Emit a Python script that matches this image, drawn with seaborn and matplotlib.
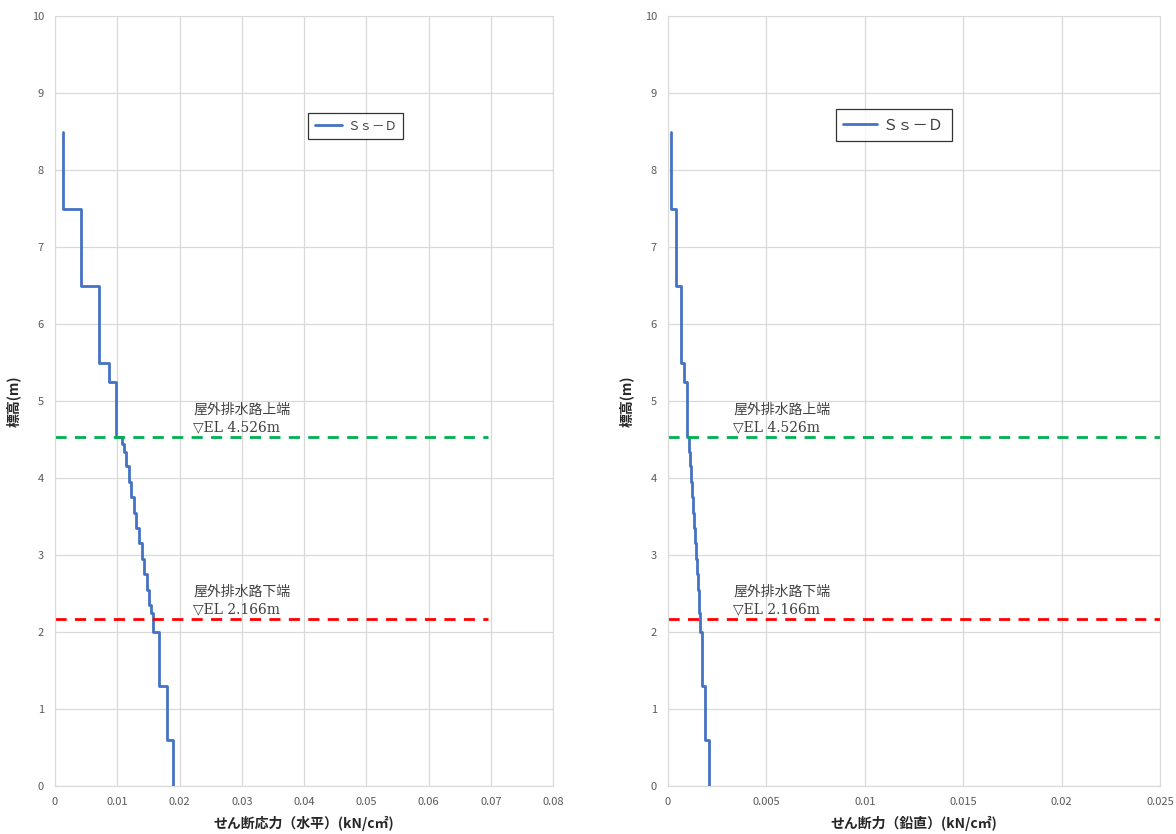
import numpy as np
import pandas as pd
import matplotlib
matplotlib.use("Agg")
import matplotlib.pyplot as plt
import seaborn as sns
from matplotlib.ticker import FuncFormatter, MultipleLocator

# --- data ---
layer_bounds = [8.5, 7.5, 6.5, 5.5, 5.25, 4.526, 4.44, 4.34, 4.15, 3.95, 3.75, 3.55,
                3.35, 3.15, 2.95, 2.75, 2.55, 2.35, 2.25, 2.166, 2.0, 1.3, 0.6, 0.0]
shear_h = [0.0013, 0.0042, 0.0070, 0.0086, 0.00985, 0.01076, 0.01108, 0.0114, 0.01184,
           0.01226, 0.01264, 0.01306, 0.01354, 0.01398, 0.01434, 0.01478, 0.01515,
           0.01547, 0.01569, 0.01579, 0.01666, 0.01794, 0.01896]
shear_v = [0.00014, 0.00041, 0.00066, 0.00081, 0.00095, 0.00105, 0.00109, 0.00113,
           0.00118, 0.00123, 0.00127, 0.00132, 0.00137, 0.00142, 0.00146, 0.00151,
           0.00155, 0.00159, 0.00162, 0.00164, 0.00174, 0.00188, 0.00209]
series_name = "Ｓｓ－Ｄ"
top_el = 4.526
bottom_el = 2.166
top_label = "屋外排水路上端\n▽EL 4.526m"
bottom_label = "屋外排水路下端\n▽EL 2.166m"


def step_frame(vals):
    xs, ys = [], []
    for i, v in enumerate(vals):
        xs += [v, v]
        ys += [layer_bounds[i], layer_bounds[i + 1]]
    return pd.DataFrame({"x": xs, "y": ys})


sns.set_style("whitegrid")
plt.rcParams['font.family'] = ['Noto Sans CJK JP', 'DejaVu Sans']
plt.rcParams['axes.unicode_minus'] = False

fig = plt.figure(figsize=(11.76, 8.34), dpi=100)
ax1 = fig.add_axes([55 / 1176, 48 / 834, 498 / 1176, 770 / 834])
ax2 = fig.add_axes([668 / 1176, 48 / 834, 492 / 1176, 770 / 834])

panels = [
    (ax1, shear_h, 0.08, 0.01, "せん断応力（水平）(kN/c㎡)", 0.0695, 0.0222,
     (0.604, 0.857), 9),
    (ax2, shear_v, 0.025, 0.005, "せん断力（鉛直）(kN/c㎡)", 0.025, 0.0033,
     (0.459, 0.858), 11),
]

note_family = ['DejaVu Serif', 'Noto Sans CJK JP']

for ax, vals, xmax, xstep, xlabel, dash_end, txt_x, leg_pos, leg_fs in panels:
    df = step_frame(vals)
    sns.lineplot(data=df, x="x", y="y", sort=False, estimator=None, ax=ax,
                 color="#4472c4", linewidth=2, label=series_name)
    ax.plot([0, dash_end], [top_el, top_el], color="#00b050", linestyle=(0, (4, 3)),
            linewidth=2)
    ax.plot([0, dash_end], [bottom_el, bottom_el], color="#ff0000", linestyle=(0, (4, 3)),
            linewidth=2)
    ax.text(txt_x, top_el + 0.04, top_label, fontsize=10, color="#404040",
            va="bottom", ha="left", linespacing=1.35, family=note_family)
    ax.text(txt_x, bottom_el + 0.04, bottom_label, fontsize=10, color="#404040",
            va="bottom", ha="left", linespacing=1.35, family=note_family)

    ax.set_xlim(0, xmax)
    ax.set_ylim(0, 10)
    ax.xaxis.set_major_locator(MultipleLocator(xstep))
    ax.yaxis.set_major_locator(MultipleLocator(1))
    ax.xaxis.set_major_formatter(FuncFormatter(lambda v, p: "%g" % round(v, 6)))
    ax.grid(True, color="#d9d9d9", linewidth=0.9)
    for s in ax.spines.values():
        s.set_color("#d9d9d9")
    ax.tick_params(length=0, labelsize=8, colors="#595959", pad=8)
    ax.set_xlabel(xlabel, fontsize=10, fontweight="bold", color="#262626", labelpad=6)
    ax.set_ylabel("標高(m)", fontsize=10, fontweight="bold", color="#262626", labelpad=8)

    leg = ax.legend(loc="center", bbox_to_anchor=leg_pos, fontsize=leg_fs,
                    frameon=True, fancybox=False, handlelength=2.2,
                    borderpad=0.5, handletextpad=0.4)
    leg.get_frame().set_edgecolor("black")
    leg.get_frame().set_linewidth(0.9)
    for t in leg.get_texts():
        t.set_color("#404040")

fig.savefig("out.png", dpi=100)
